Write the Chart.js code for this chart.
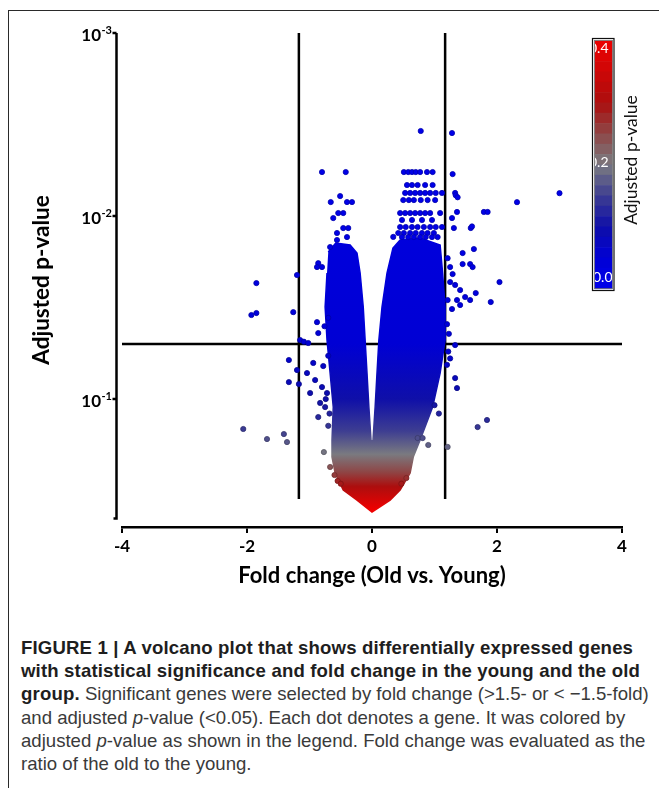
<!DOCTYPE html>
<html>
<head>
<meta charset="utf-8">
<script src="https://cdn.jsdelivr.net/npm/chart.js@4.4.1/dist/chart.umd.min.js"></script>
<style>
  html, body { margin: 0; padding: 0; background: #fff; }
  body { width: 659px; height: 788px; position: relative; overflow: hidden; }
  #frame { position: absolute; left: 8px; top: 10px; width: 700px; height: 800px;
           border-left: 1px solid #2a2a2a; border-top: 1px solid #2a2a2a; }
  #chart { position: absolute; left: 0; top: 0; }
  #caption { position: absolute; left: 21px; top: 636px; font: 18.6px/23.2px "Liberation Sans", Arial, sans-serif;
             color: #3a3a3a; white-space: nowrap; }
  #caption b { color: #1e1e1e; letter-spacing: 0.15px; }
</style>
</head>
<body>
<div id="frame"></div>
<canvas id="chart" width="659" height="600"></canvas>
<div id="caption">
<b>FIGURE 1 | A volcano plot that shows differentially expressed genes</b><br>
<b>with statistical significance and fold change in the young and the old</b><br>
<b>group.</b> Significant genes were selected by fold change (&gt;1.5- or &lt; −1.5-fold)<br>
and adjusted <i>p</i>-value (&lt;0.05). Each dot denotes a gene. It was colored by<br>
adjusted <i>p</i>-value as shown in the legend. Fold change was evaluated as the<br>
ratio of the old to the young.
</div>
<script>
// axes
const xTicks = [-4, -2, 0, 2, 4];
const yTicks = [0.001, 0.01, 0.1];
const yTickBase = ['10', '10', '10'];
const yTickExp = ['-3', '-2', '-1'];
const yAxisEnd = 0.45;

// cut-off lines
const foldCut = [-1.17, 1.17];
const foldCutEnd = 0.352;
const pCut = 0.05;

// colour bar legend
const cbTicks = [0.0, 0.2, 0.4];
const cbLabels = ['0.0', '0.2', '0.4'];

// dense body of the volcano (outline), [fold, p]
const bodyOutline = [
  [-0.70, 0.01573], [-0.58, 0.01404], [-0.35, 0.0144], [-0.24, 0.01593], [-0.19, 0.02049],
  [-0.14, 0.03143], [-0.11, 0.0476], [-0.08, 0.0721], [-0.05, 0.1106], [-0.016, 0.1675],
  [-0.008, 0.2771], [0.008, 0.2771], [0.016, 0.1675], [0.05, 0.1106], [0.08, 0.0721],
  [0.11, 0.0476], [0.16, 0.03143], [0.24, 0.02049], [0.335, 0.01496], [0.45, 0.01352],
  [0.77, 0.01319], [1.09, 0.0144], [1.13, 0.02049], [1.17, 0.03143], [1.17, 0.0476],
  [1.09, 0.0721], [0.97, 0.1106], [0.77, 0.1675], [0.66, 0.2074], [0.61, 0.2537],
  [0.45, 0.3143], [0.29, 0.3563], [0.0, 0.4145], [-0.24, 0.3563], [-0.46, 0.3143],
  [-0.59, 0.2537], [-0.64, 0.2074], [-0.64, 0.1675], [-0.62, 0.1106], [-0.67, 0.0721],
  [-0.72, 0.0476], [-0.75, 0.03143], [-0.72, 0.02049]
];

// single genes at the top of both lobes
const topGenes = [
  [0.78, 0.00343], [1.28, 0.00352],
  [0.51, 0.00575], [0.58, 0.00575], [0.64, 0.00575], [0.70, 0.00575], [0.77, 0.00575], [0.88, 0.00575], [0.97, 0.00575],
  [0.56, 0.00677], [0.64, 0.00677], [0.73, 0.00677], [0.85, 0.00677], [0.97, 0.00677],
  [0.53, 0.00748], [0.61, 0.00748], [0.69, 0.00748], [0.77, 0.00748], [0.85, 0.00748], [0.93, 0.00748], [1.02, 0.00748], [1.12, 0.00748],
  [0.50, 0.00818], [0.59, 0.00818], [0.67, 0.00818], [0.78, 0.00818], [0.89, 0.00818], [1.01, 0.00818],
  [0.45, 0.00963], [0.53, 0.00963], [0.61, 0.00963], [0.69, 0.00963], [0.77, 0.00963], [0.85, 0.00963], [0.93, 0.00963], [1.09, 0.00963],
  [0.48, 0.01051], [0.64, 0.01051], [0.80, 0.01051], [0.96, 0.01051],
  [0.45, 0.01148], [0.54, 0.01148], [0.64, 0.01148], [0.73, 0.01148], [0.83, 0.01148], [0.93, 0.01148], [1.02, 0.01148], [1.12, 0.01148],
  [0.42, 0.01238], [0.51, 0.01238], [0.61, 0.01238], [0.70, 0.01238], [0.80, 0.01238], [0.89, 0.01238], [0.99, 0.01238],
  [0.34, 0.0130], [0.48, 0.01303], [0.58, 0.01303], [0.67, 0.01303], [0.77, 0.01303], [0.86, 0.01303], [0.96, 0.01303], [1.05, 0.01303],
  [-0.80, 0.00575], [-0.42, 0.00575], [-0.51, 0.00778], [-0.66, 0.00839], [-0.40, 0.00839], [-0.32, 0.00839],
  [-0.54, 0.00963], [-0.46, 0.00963], [-0.62, 0.01026], [-0.46, 0.01163], [-0.38, 0.01163],
  [-0.56, 0.01238], [-0.56, 0.01352], [-0.40, 0.01303], [-0.67, 0.01477],
  [-0.86, 0.0181], [-0.80, 0.019], [-0.88, 0.019]
];

// single genes left of the body
const leftGenes = [
  [-2.06, 0.1457], [-1.68, 0.1654], [-1.41, 0.1553], [-1.36, 0.1718],
  [-1.85, 0.02325], [-1.93, 0.03474], [-1.85, 0.03388],
  [-1.20, 0.0210], [-1.26, 0.0335], [-1.15, 0.0476], [-1.09, 0.0486], [-1.02, 0.0494],
  [-1.33, 0.0612], [-1.20, 0.0694], [-1.33, 0.0808], [-1.17, 0.0828],
  [-0.88, 0.0380], [-0.86, 0.0436], [-0.94, 0.0635], [-1.04, 0.0721], [-0.91, 0.0787],
  [-0.80, 0.086], [-0.72, 0.0927], [-0.99, 0.0927], [-0.86, 0.1254], [-0.77, 0.1948],
  [-0.75, 0.1106], [-0.78, 0.066], [-0.70, 0.058], [-0.74, 0.10], [-0.68, 0.12],
  [-0.83, 0.105], [-0.70, 0.14], [-0.76, 0.040], [-0.70, 0.036],
  [-0.67, 0.235], [-0.60, 0.26], [-0.55, 0.28], [-0.50, 0.29]
];

// single genes right of the body
const rightGenes = [
  [1.29, 0.0059], [1.33, 0.00748], [1.34, 0.0077], [1.37, 0.0079], [1.36, 0.0095],
  [1.79, 0.0095], [1.85, 0.0095], [2.32, 0.0084], [3.00, 0.0075],
  [1.28, 0.01026], [1.31, 0.01163], [1.58, 0.01163], [1.60, 0.0114], [1.63, 0.01515],
  [1.45, 0.01593], [1.45, 0.0183], [1.57, 0.0183], [1.61, 0.019], [1.29, 0.02075],
  [2.04, 0.02295], [1.66, 0.02635], [1.90, 0.0295], [1.57, 0.02877],
  [1.25, 0.02295], [1.33, 0.0238], [1.41, 0.02538], [1.49, 0.0277], [1.41, 0.03064],
  [1.28, 0.03222], [1.21, 0.02877], [1.36, 0.02877],
  [1.33, 0.0507], [1.33, 0.0768], [1.36, 0.0871], [1.69, 0.1422], [1.84, 0.1301],
  [1.21, 0.1826], [0.90, 0.1782], [0.73, 0.1633], [0.81, 0.1633],
  [1.21, 0.017], [1.25, 0.019], [1.20, 0.039], [1.23, 0.044], [1.22, 0.055],
  [1.25, 0.060], [1.20, 0.065], [1.00, 0.108], [1.07, 0.12], [0.47, 0.29], [0.55, 0.27]
];

// colour by adjusted p-value
const pColors = [
  [0.00, [0, 0, 235]],
  [0.05, [0, 0, 212]],
  [0.10, [15, 15, 168]],
  [0.15, [62, 62, 145]],
  [0.20, [122, 122, 128]],
  [0.25, [142, 70, 70]],
  [0.30, [172, 14, 14]],
  [0.40, [238, 0, 0]]
];

function pColor(p, k) {
  k = k || 1;
  let c = pColors[pColors.length - 1][1];
  if (p <= pColors[0][0]) c = pColors[0][1];
  for (let i = 0; i < pColors.length - 1; i++) {
    const [p0, c0] = pColors[i], [p1, c1] = pColors[i + 1];
    if (p >= p0 && p <= p1) {
      const t = (p - p0) / (p1 - p0);
      c = c0.map((v, j) => v + (c1[j] - v) * t);
      break;
    }
  }
  return `rgb(${Math.round(c[0] * k)},${Math.round(c[1] * k)},${Math.round(c[2] * k)})`;
}

function bodyGradient(chart) {
  const {ctx, chartArea, scales} = chart;
  if (!chartArea || !scales.y) return pColor(0.02);
  const top = chartArea.top, bot = chartArea.bottom;
  const g = ctx.createLinearGradient(0, top, 0, bot);
  g.addColorStop(0, pColor(0.001));
  pColors.forEach(([p]) => {
    if (p <= 0) return;
    const off = (scales.y.getPixelForValue(p) - top) / (bot - top);
    g.addColorStop(Math.min(1, Math.max(0, off)), pColor(p));
  });
  return g;
}

const toPts = arr => arr.map(d => ({x: d[0], y: d[1]}));
const genes = toPts(topGenes.concat(leftGenes, rightGenes));

const axisAndLegend = {
  id: 'axisAndLegend',
  afterDraw(chart) {
    const {ctx, chartArea, scales} = chart;
    const ys = scales.y;
    const ax = chartArea.left - 5.5;
    ctx.save();
    // y axis line, offset from the x axis
    ctx.strokeStyle = '#000';
    ctx.lineWidth = 2.5;
    ctx.beginPath();
    ctx.moveTo(ax, ys.getPixelForValue(yTicks[0]));
    ctx.lineTo(ax, ys.getPixelForValue(yAxisEnd));
    ctx.lineTo(ax - 3, ys.getPixelForValue(yAxisEnd));
    yTicks.forEach(v => {
      const py = ys.getPixelForValue(v);
      ctx.moveTo(ax, py);
      ctx.lineTo(ax - 4, py);
    });
    ctx.stroke();

    // y tick labels with superscript powers
    ctx.fillStyle = '#000';
    ctx.textAlign = 'right';
    ctx.textBaseline = 'alphabetic';
    yTicks.forEach((v, i) => {
      const py = ys.getPixelForValue(v);
      ctx.font = 'bold 11px Lato';
      const ew = ctx.measureText(yTickExp[i]).width;
      ctx.fillText(yTickExp[i], 112, py + 1);
      ctx.font = 'bold 17px Lato';
      ctx.fillText(yTickBase[i], 112 - ew - 0.5, py + 8);
    });

    // colour bar
    const bx = 594.5, by = 40.5, bw = 18, bh = 248;
    const n = 24;
    for (let i = 0; i < n; i++) {
      ctx.fillStyle = pColor(0.4 * (1 - (i + 0.5) / n));
      ctx.fillRect(bx, by + i * bh / n, bw, bh / n + 0.6);
    }
    ctx.save();
    ctx.beginPath();
    ctx.rect(bx, by, bw, bh);
    ctx.clip();
    ctx.fillStyle = '#fff';
    ctx.font = '14px Lato';
    ctx.textAlign = 'left';
    ctx.textBaseline = 'middle';
    cbTicks.forEach((v, i) => {
      const ty = 48 + (0.4 - v) / 0.4 * 229;
      ctx.fillText(cbLabels[i], v === 0 ? 593 : 589, ty);
    });
    ctx.restore();
    ctx.strokeStyle = '#777';
    ctx.lineWidth = 0.8;
    ctx.strokeRect(bx, by, bw, bh);
    ctx.strokeStyle = '#111';
    ctx.lineWidth = 1.2;
    ctx.strokeRect(592.5, 38.5, 21.5, 252);

    ctx.translate(631, 160);
    ctx.rotate(-Math.PI / 2);
    ctx.fillStyle = '#111';
    ctx.font = '17.5px Lato';
    ctx.textAlign = 'center';
    ctx.textBaseline = 'middle';
    ctx.fillText('Adjusted p-value', 0, 0);
    ctx.restore();
  }
};

const cutLine = {type: 'line', borderColor: '#000', borderWidth: 2.5, pointRadius: 0, fill: false, order: 3};

new Chart(document.getElementById('chart'), {
  type: 'scatter',
  data: {
    datasets: [
      {
        label: 'genes',
        data: genes,
        pointRadius: 2.6,
        pointBorderWidth: 0.8,
        pointBackgroundColor: c => pColor(c.raw ? c.raw.y : 0.02),
        pointBorderColor: c => pColor(c.raw ? c.raw.y : 0.02, 0.75),
        order: 1
      },
      {
        type: 'line',
        label: 'body',
        data: toPts(bodyOutline),
        fill: 'shape',
        tension: 0,
        pointRadius: 0,
        borderWidth: 1.5,
        backgroundColor: c => bodyGradient(c.chart),
        borderColor: c => bodyGradient(c.chart),
        order: 2
      },
      Object.assign({label: 'low cut', data: [{x: foldCut[0], y: 0.001}, {x: foldCut[0], y: foldCutEnd}]}, cutLine),
      Object.assign({label: 'high cut', data: [{x: foldCut[1], y: 0.001}, {x: foldCut[1], y: foldCutEnd}]}, cutLine),
      Object.assign({label: 'p cut', data: [{x: xTicks[0], y: pCut}, {x: xTicks[xTicks.length - 1], y: pCut}]}, cutLine)
    ]
  },
  options: {
    responsive: false,
    animation: false,
    layout: { padding: { top: 33, right: 37, bottom: 0, left: 0 } },
    plugins: { legend: { display: false }, tooltip: { enabled: false } },
    scales: {
      x: {
        type: 'linear',
        min: -4,
        max: 4,
        afterBuildTicks: s => { s.ticks = xTicks.map(v => ({value: v})); },
        afterFit: s => { s.height = 73; },
        grid: { display: true, drawOnChartArea: false, drawTicks: true, tickLength: 6, color: '#000', lineWidth: 2 },
        border: { display: true, color: '#000', width: 2.5 },
        ticks: { color: '#000', padding: 3, font: { family: 'Lato', weight: 'bold', size: 17 } },
        title: {
          display: true,
          text: 'Fold change (Old vs. Young)',
          color: '#000',
          font: { family: 'Lato', weight: 'bold', size: 22 },
          padding: { top: 0, bottom: 11 }
        }
      },
      y: {
        type: 'logarithmic',
        min: 0.001,
        max: 0.5,
        reverse: true,
        afterBuildTicks: s => { s.ticks = yTicks.map(v => ({value: v})); },
        afterFit: s => { s.width = 122; },
        grid: { display: false, drawTicks: false },
        border: { display: false },
        ticks: { display: false },
        title: {
          display: true,
          text: 'Adjusted p-value',
          color: '#000',
          font: { family: 'Lato', weight: 'bold', size: 22.5 },
          padding: { top: 28 }
        }
      }
    }
  },
  plugins: [axisAndLegend]
});
</script>
</body>
</html>
